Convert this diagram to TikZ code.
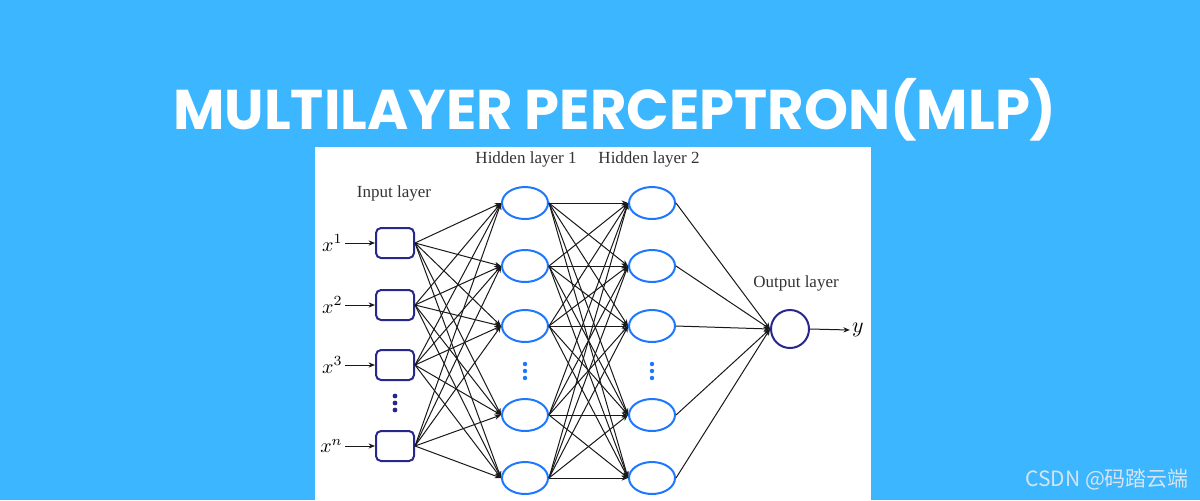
\documentclass[tikz,border=0pt]{standalone}
\usepackage{fontspec}
\setmainfont{Liberation Serif}
\newfontfamily\titlefont{Poppins}
\newfontfamily\cjk{Noto Sans CJK SC}
\usetikzlibrary{arrows.meta,shapes.geometric,positioning,calc}
\definecolor{bgblue}{RGB}{59,182,255}
\definecolor{navy}{RGB}{40,40,140}
\definecolor{nodeblue}{RGB}{30,120,255}
\definecolor{markgray}{RGB}{215,228,240}
\tikzset{
  inbox/.style={rectangle,rounded corners=2.5pt,draw=navy,line width=1pt,
                minimum width=19pt,minimum height=15pt,inner sep=0pt},
  hidnode/.style={ellipse,draw=nodeblue,line width=1pt,
                  minimum width=23pt,minimum height=16pt,inner sep=0pt},
  outnode/.style={circle,draw=navy,line width=1pt,
                  minimum size=19pt,inner sep=0pt},
  wire/.style={-{Stealth[length=3.2pt,width=2.6pt]},line width=0.5pt,black!90},
  layerlbl/.style={font=\fontsize{8.5}{10}\selectfont,black!80,inner sep=0.5pt},
}

\begin{document}
\begin{tikzpicture}[x=0.5pt,y=-0.5pt]
        \useasboundingbox (0,0) rectangle (1200,500);
        \fill[bgblue] (0,0) rectangle (1200,500);
        \fill[white] (315,147) rectangle (871,500);

        \node[font=\titlefont\bfseries\fontsize{28}{28}\selectfont,white,inner sep=0pt]
          (title) at (615,110) {MULTILAYER PERCEPTRON(MLP)};

        \node[layerlbl] (inlbl) at (394,193) {Input layer};
        \node[layerlbl] (h1lbl) at (526,159) {Hidden layer 1};
        \node[layerlbl] (h2lbl) at (649,159) {Hidden layer 2};
        \node[layerlbl] (outlbl) at (796,283) {Output layer};

        \foreach \i/\y/\s in {1/243/1,2/305/2,3/365/3,4/446/n} {
          \node[inbox] (in\i) at (395,\y) {};
          \node[left,inner sep=1pt,font=\fontsize{10}{10}\selectfont] (x\i)
            at (345,\y) {$x^{\s}$};
          \draw[wire] (x\i.east) -- (in\i.west);
        }

        \foreach \i/\y in {1/203,2/266,3/326,4/415,5/478} {
          \node[hidnode] (ha\i) at (525,\y) {};
          \node[hidnode] (hb\i) at (652,\y) {};
        }

        \node[outnode] (out) at (790,329) {};
        \node[inner sep=1pt,font=\fontsize{11}{11}\selectfont] (yout)
          at (858,330) {$y$};
        \draw[wire] (out.east) -- (yout.west);

        \foreach \y in {-7,0,7} {
          \fill[navy] (395,403+\y) circle (1.2pt);
          \fill[nodeblue] (525,371+\y) circle (1.1pt);
          \fill[nodeblue] (652,371+\y) circle (1.1pt);
        }

        \foreach \a in {1,...,4}
          \foreach \b in {1,...,5}
            \draw[wire] (in\a.east) -- (ha\b.west);
        \foreach \a in {1,...,5}
          \foreach \b in {1,...,5}
            \draw[wire] (ha\a.east) -- (hb\b.west);
        \foreach \a in {1,...,5}
          \draw[wire] (hb\a.east) -- (out.west);

        \node[font=\cjk\fontsize{10.5}{11}\selectfont,markgray,anchor=east]
          (mark) at (1196,480) {CSDN @码踏云端};
      \end{tikzpicture}
\end{document}
